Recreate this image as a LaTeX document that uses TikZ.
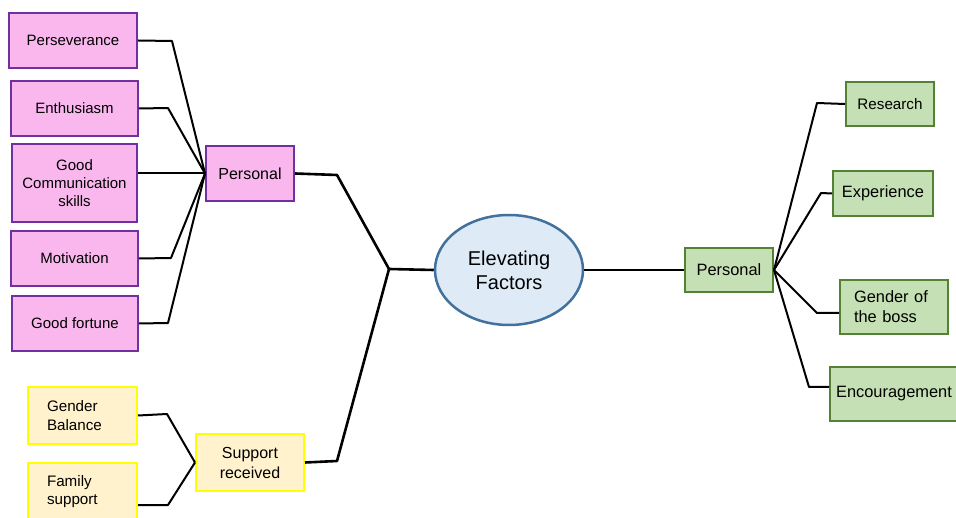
\documentclass[tikz,border=0pt]{standalone}
\usepackage{fontspec}
\setmainfont{Liberation Sans}
\usetikzlibrary{shapes.geometric}
\definecolor{pinkfill}{RGB}{249,183,237}
\definecolor{purpleline}{RGB}{112,48,160}
\definecolor{greenfill}{RGB}{197,224,180}
\definecolor{greenline}{RGB}{84,130,53}
\definecolor{yellowfill}{RGB}{255,242,204}
\definecolor{yellowline}{RGB}{255,255,0}
\definecolor{ellfill}{RGB}{222,235,247}
\definecolor{ellline}{RGB}{65,113,156}
\tikzset{
  pinkbox/.style={draw=purpleline, fill=pinkfill, line width=2pt, inner sep=0pt, align=center, font=\fontsize{15}{18}\selectfont},
  greenbox/.style={draw=greenline, fill=greenfill, line width=2pt, inner sep=0pt, align=center, font=\fontsize{16.4}{20}\selectfont},
  yellowbox/.style={draw=yellowline, fill=yellowfill, line width=2pt, inner sep=0pt, align=center, font=\fontsize{15.5}{19}\selectfont},
  conn/.style={draw=black, line width=2pt, line join=round},
  mainconn/.style={draw=black, line width=2.6pt, line join=round},
}
\begin{document}
\begin{tikzpicture}[x=1pt,y=-1pt]
\useasboundingbox (0,0) rectangle (956,518);
\fill[white] (0,0) rectangle (956,518);
% left pink
\node[pinkbox, minimum width=128pt, minimum height=55pt] (pers) at (73,40.5) {Perseverance};
\node[pinkbox, minimum width=127pt, minimum height=55pt] (enth) at (74.5,108.5) {Enthusiasm};
\node[pinkbox, minimum width=125pt, minimum height=78pt] (comm) at (74.5,183) {Good\\Communication\\skills};
\node[pinkbox, minimum width=127pt, minimum height=55pt] (moti) at (74.5,258.5) {Motivation};
\node[pinkbox, minimum width=126pt, minimum height=55pt] (fort) at (75,323.5) {Good fortune};
\node[pinkbox, minimum width=88pt, minimum height=55pt, font=\fontsize{16}{19}\selectfont] (persL) at (250,173.5) {Personal};
% centre
\node[ellipse, draw=ellline, fill=ellfill, line width=2.5pt, minimum width=148pt, minimum height=110pt, inner sep=0pt, align=center, font=\fontsize{20}{24}\selectfont] (elev) at (509,270) {Elevating\\Factors};
% right green
\node[greenbox, minimum width=88pt, minimum height=44pt] (persR) at (729,270) {Personal};
\node[greenbox, minimum width=88pt, minimum height=44pt, font=\fontsize{15.2}{18}\selectfont] (rese) at (890,104) {Research};
\node[greenbox, minimum width=100pt, minimum height=45pt] (expe) at (883,193.5) {Experience};
\node[greenbox, minimum width=108pt, minimum height=54pt, align=left, text width=80pt, inner xsep=14pt] (boss) at (894,307) {Gender of\\the boss};
\node[greenbox, minimum width=128pt, minimum height=54pt, inner xsep=6pt] (enco) at (894,394) {Encouragement};
% bottom yellow
\node[yellowbox, minimum width=109pt, minimum height=57pt, align=left, text width=71pt, inner xsep=19pt, font=\fontsize{15.2}{18.5}\selectfont] (gbal) at (82.5,415.5) {Gender\\Balance};
\node[yellowbox, minimum width=109pt, minimum height=57pt, align=left, text width=71pt, inner xsep=19pt, font=\fontsize{15.2}{18.5}\selectfont] (fami) at (82.5,491.5) {Family\\support};
\node[yellowbox, minimum width=108pt, minimum height=57pt, font=\fontsize{16}{20}\selectfont] (supp) at (250,462.5) {Support\\received};
% junction
\coordinate (junc) at (389,269);
% left connectors
\draw[conn] (pers.east) -- (172,41) -- (persL.west);
\draw[conn] (enth.east) -- (168,108) -- (persL.west);
\draw[conn] (comm.east |- persL.west) -- (persL.west);
\draw[conn] (moti.east) -- (171,258) -- (persL.west);
\draw[conn] (fort.east) -- (168,323) -- (persL.west);
\draw[mainconn] (persL.east) -- (337,175) -- (junc) -- (elev.west);
\draw[mainconn] (supp.east) -- (337,461) -- (junc);
\draw[conn] (gbal.east) -- (167,414) -- (supp.west);
\draw[conn] (fami.east |- 0,505) -- (168,505) -- (supp.west);
% right connectors
\draw[mainconn] (elev.east) -- (persR.west);
\draw[conn] (persR.east) -- (817,103) -- (rese.west);
\draw[conn] (persR.east) -- (821,193) -- (expe.west);
\draw[conn] (persR.east) -- (817,313) -- (boss.west |- 0,313);
\draw[conn] (persR.east) -- (809,387) -- (enco.west |- 0,387);
\end{tikzpicture}
\end{document}
